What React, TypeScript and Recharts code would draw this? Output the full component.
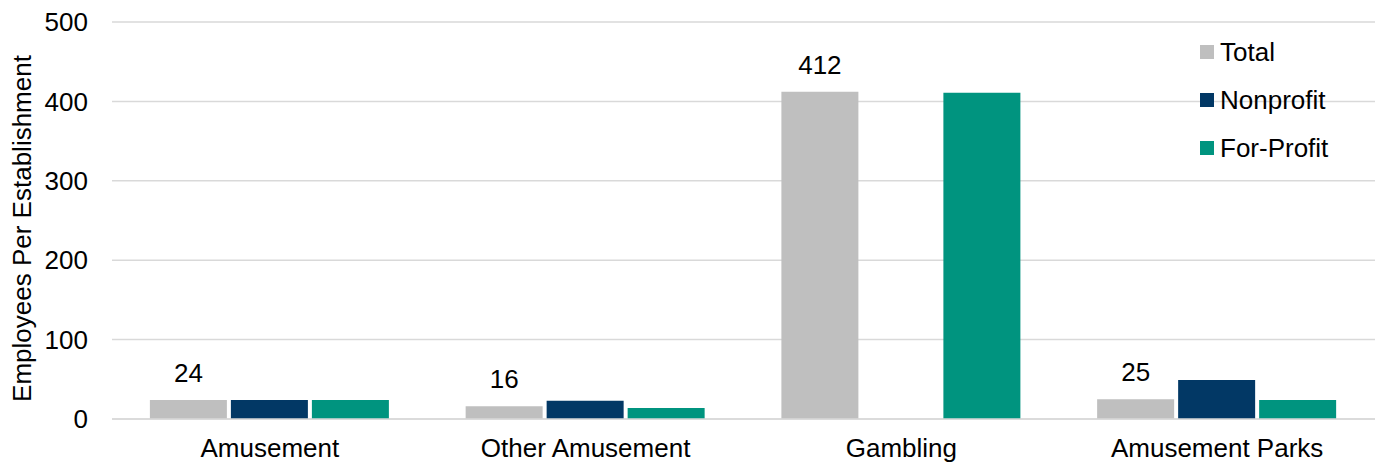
import { Bar, BarChart, CartesianGrid, LabelList, XAxis, YAxis } from "recharts";

const categories = ["Amusement", "Other Amusement", "Gambling", "Amusement Parks"];
const totalValues = [24, 16, 412, 25];
const nonprofitValues = [24, 23, 0, 49];
const forProfitValues = [24, 14, 411, 24];
const yTicks = [0, 100, 200, 300, 400, 500];

const seriesInfo = [
  { key: "total", name: "Total", color: "#BFBFBF" },
  { key: "nonprofit", name: "Nonprofit", color: "#023865" },
  { key: "forProfit", name: "For-Profit", color: "#00947F" },
];

const chartData = categories.map((name, i) => ({
  name,
  total: totalValues[i],
  nonprofit: nonprofitValues[i],
  forProfit: forProfitValues[i],
}));

const font = "'Liberation Sans', Arial, sans-serif";
const textStyle = { fill: "#000", fontSize: 26, fontFamily: font };

// legend drawn as plain html so it does not eat plot width
const LegendBox = () => (
  <div
    style={{
      position: "absolute",
      top: 28,
      left: 1200,
      fontFamily: font,
      fontSize: 26,
      color: "#000",
    }}
  >
    {seriesInfo.map((s) => (
      <div key={s.key} style={{ display: "flex", alignItems: "center", height: 48 }}>
        <div style={{ width: 14, height: 14, background: s.color, marginRight: 6 }} />
        <span>{s.name}</span>
      </div>
    ))}
  </div>
);

export default function App() {
  return (
    <div style={{ position: "absolute", left: 0, top: 0, width: 1375, height: 466, background: "#fff" }}>
      <BarChart
        width={1375}
        height={466}
        data={chartData}
        margin={{ top: 22, right: 0, bottom: 0, left: 0 }}
        barCategoryGap="12%"
        barGap={4}
      >
        <CartesianGrid vertical={false} stroke="#d9d9d9" strokeWidth={1.5} />
        <XAxis
          dataKey="name"
          height={47}
          tickLine={false}
          axisLine={{ stroke: "#d9d9d9", strokeWidth: 1.5 }}
          tickSize={0}
          tickMargin={20}
          tick={textStyle}
        />
        <YAxis
          width={112}
          domain={[0, 500]}
          ticks={yTicks}
          axisLine={false}
          tickLine={false}
          tickSize={0}
          tickMargin={24}
          tick={textStyle}
          label={{
            value: "Employees Per Establishment",
            angle: -90,
            position: "center",
            dx: -34,
            dy: 8,
            style: { ...textStyle, textAnchor: "middle" },
          }}
        />
        {seriesInfo.map((s) => (
          <Bar
            key={s.key}
            dataKey={s.key}
            name={s.name}
            fill={s.color}
            isAnimationActive={false}
          >
            {s.key === "total" && (
              <LabelList dataKey="total" position="top" offset={18} style={textStyle} />
            )}
          </Bar>
        ))}
      </BarChart>
      <LegendBox />
    </div>
  );
}
